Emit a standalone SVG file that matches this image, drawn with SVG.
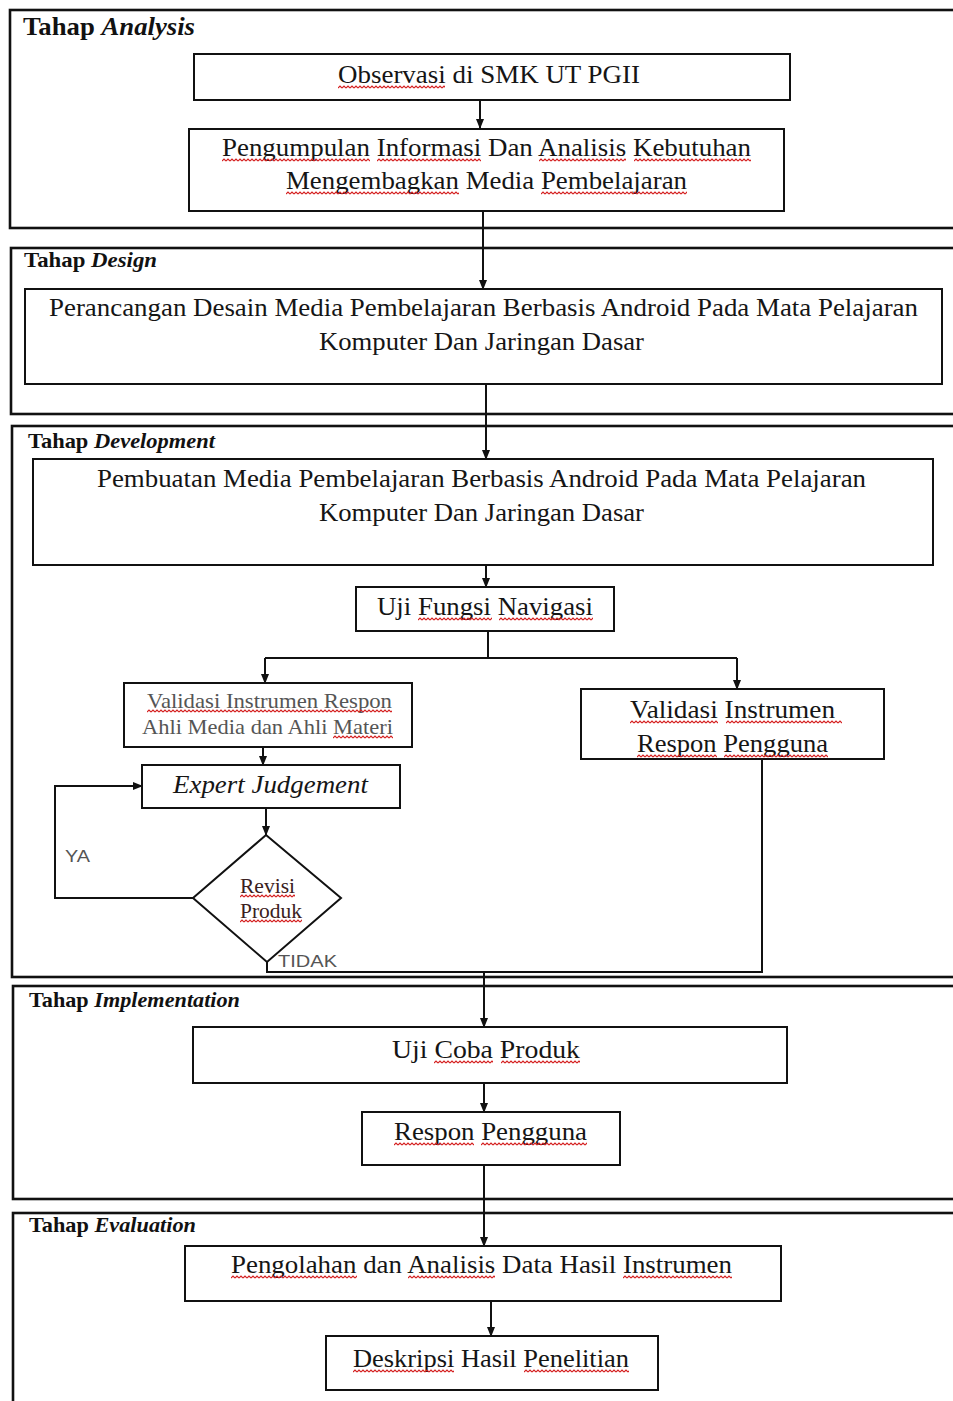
<svg xmlns="http://www.w3.org/2000/svg" width="953" height="1401" viewBox="0 0 953 1401">
<style>
.frame{fill:none;stroke:#111;stroke-width:2.6}
.box{fill:#fff;stroke:#111;stroke-width:2}
.ln{fill:none;stroke:#111;stroke-width:2}
.t{font-family:"Liberation Serif","Times New Roman",serif;font-size:26px;fill:#151515}
.ts{font-family:"Liberation Serif","Times New Roman",serif;font-size:21px;fill:#555}
.lab{font-family:"Liberation Serif","Times New Roman",serif;font-size:22px;font-weight:bold;fill:#111}
.it{font-style:italic}
.sans{font-family:"Liberation Sans",Arial,sans-serif;font-size:17px;fill:#555}
.sq{fill:url(#wave)}
</style>
<defs>
<marker id="ah" markerWidth="10" markerHeight="10" refX="9" refY="5" orient="auto" markerUnits="userSpaceOnUse">
<path d="M0,1 L10,5 L0,9 Z" fill="#111"/>
</marker>
<pattern id="wave" width="4" height="4" patternUnits="userSpaceOnUse">
<path d="M0,3 L2,1 L4,3" fill="none" stroke="#d41c1c" stroke-width="1.1"/>
</pattern>
</defs>
<rect width="953" height="1401" fill="#fff"/>

<g id="phases">
<rect class="frame" x="10" y="10" width="960" height="218"/>
<rect class="frame" x="11" y="248" width="960" height="166"/>
<rect class="frame" x="12" y="426" width="960" height="551"/>
<rect class="frame" x="13" y="986" width="960" height="213"/>
<rect class="frame" x="13" y="1213" width="960" height="260"/>
<text class="lab" x="23" y="35" style="font-size:25px" textLength="172" lengthAdjust="spacingAndGlyphs">Tahap <tspan class="it">Analysis</tspan></text>
<text class="lab" x="24" y="267" textLength="133" lengthAdjust="spacingAndGlyphs">Tahap <tspan class="it">Design</tspan></text>
<text class="lab" x="28" y="448" textLength="187" lengthAdjust="spacingAndGlyphs">Tahap <tspan class="it">Development</tspan></text>
<text class="lab" x="29" y="1007" textLength="211" lengthAdjust="spacingAndGlyphs">Tahap <tspan class="it">Implementation</tspan></text>
<text class="lab" x="29" y="1232" textLength="167" lengthAdjust="spacingAndGlyphs">Tahap <tspan class="it">Evaluation</tspan></text>
</g>

<g id="connectors">
<path class="ln" d="M480,100 V128" marker-end="url(#ah)"/>
<path class="ln" d="M483,211 V289" marker-end="url(#ah)"/>
<path class="ln" d="M486,384 V459" marker-end="url(#ah)"/>
<path class="ln" d="M486,565 V587" marker-end="url(#ah)"/>
<path class="ln" d="M488,631 V658"/>
<path class="ln" d="M265,658 H737"/>
<path class="ln" d="M265,658 V683" marker-end="url(#ah)"/>
<path class="ln" d="M737,658 V689" marker-end="url(#ah)"/>
<path class="ln" d="M263,747 V765" marker-end="url(#ah)"/>
<path class="ln" d="M266,808 V835" marker-end="url(#ah)"/>
<path class="ln" d="M193,898 H55 V786 H142" marker-end="url(#ah)"/>
<path class="ln" d="M267,962 V972 H762 V759"/>
<path class="ln" d="M484,972 V1027" marker-end="url(#ah)"/>
<path class="ln" d="M484,1083 V1112" marker-end="url(#ah)"/>
<path class="ln" d="M484,1165 V1246" marker-end="url(#ah)"/>
<path class="ln" d="M491,1301 V1336" marker-end="url(#ah)"/>
<text class="sans" x="65" y="862" textLength="25" lengthAdjust="spacingAndGlyphs">YA</text>
<text class="sans" x="278" y="967" textLength="59" lengthAdjust="spacingAndGlyphs">TIDAK</text>
</g>

<g id="n-observasi">
<rect class="box" x="194" y="54" width="596" height="46"/>
<text class="t" x="338" y="83" textLength="302" lengthAdjust="spacingAndGlyphs">Observasi di SMK UT PGII</text>
<rect class="sq" transform="translate(338,85)" width="107" height="4"/>
</g>
<g id="n-pengumpulan">
<rect class="box" x="189" y="129" width="595" height="82"/>
<text class="t" x="222" y="156" textLength="529" lengthAdjust="spacingAndGlyphs">Pengumpulan Informasi Dan Analisis Kebutuhan</text>
<text class="t" x="286" y="189" textLength="401" lengthAdjust="spacingAndGlyphs">Mengembagkan Media Pembelajaran</text>
<rect class="sq" transform="translate(222,158)" width="148" height="4"/>
<rect class="sq" transform="translate(377,158)" width="104" height="4"/>
<rect class="sq" transform="translate(539,158)" width="87" height="4"/>
<rect class="sq" transform="translate(634,158)" width="117" height="4"/>
<rect class="sq" transform="translate(286,191)" width="173" height="4"/>
<rect class="sq" transform="translate(541,191)" width="146" height="4"/>
</g>
<g id="n-perancangan">
<rect class="box" x="25" y="289" width="917" height="95"/>
<text class="t" x="49" y="316" textLength="869" lengthAdjust="spacingAndGlyphs">Perancangan Desain Media Pembelajaran Berbasis Android Pada Mata Pelajaran</text>
<text class="t" x="319" y="350" textLength="325" lengthAdjust="spacingAndGlyphs">Komputer Dan Jaringan Dasar</text>
</g>
<g id="n-pembuatan">
<rect class="box" x="33" y="459" width="900" height="106"/>
<text class="t" x="97" y="487" textLength="769" lengthAdjust="spacingAndGlyphs">Pembuatan Media Pembelajaran Berbasis Android Pada Mata Pelajaran</text>
<text class="t" x="319" y="521" textLength="325" lengthAdjust="spacingAndGlyphs">Komputer Dan Jaringan Dasar</text>
</g>
<g id="n-ujifungsi">
<rect class="box" x="356" y="587" width="258" height="44"/>
<text class="t" x="377" y="615" textLength="216" lengthAdjust="spacingAndGlyphs">Uji Fungsi Navigasi</text>
<rect class="sq" transform="translate(418,617)" width="74" height="4"/>
<rect class="sq" transform="translate(499,617)" width="94" height="4"/>
</g>
<g id="n-validasi-ahli">
<rect class="box" x="124" y="683" width="288" height="64"/>
<text class="ts" x="147" y="708" textLength="245" lengthAdjust="spacingAndGlyphs">Validasi Instrumen Respon</text>
<text class="ts" x="142" y="734" textLength="251" lengthAdjust="spacingAndGlyphs">Ahli Media dan Ahli Materi</text>
<rect class="sq" transform="translate(147,709)" width="245" height="4"/>
<rect class="sq" transform="translate(333,735)" width="60" height="4"/>
</g>
<g id="n-expert">
<rect class="box" x="142" y="765" width="258" height="43"/>
<text class="t it" x="173" y="793" textLength="195" lengthAdjust="spacingAndGlyphs">Expert Judgement</text>
</g>
<g id="n-revisi">
<path class="box" d="M266,835 L341,898 L267,962 L193,898 Z"/>
<text class="ts" x="240" y="893" style="fill:#3a2020" textLength="55" lengthAdjust="spacingAndGlyphs">Revisi</text>
<text class="ts" x="240" y="918" style="fill:#3a2020" textLength="62" lengthAdjust="spacingAndGlyphs">Produk</text>
<rect class="sq" transform="translate(240,894)" width="55" height="4"/>
<rect class="sq" transform="translate(240,919)" width="62" height="4"/>
</g>
<g id="n-validasi-pengguna">
<rect class="box" x="581" y="689" width="303" height="70"/>
<text class="t" x="630" y="718" textLength="205" lengthAdjust="spacingAndGlyphs">Validasi Instrumen</text>
<text class="t" x="637" y="752" textLength="191" lengthAdjust="spacingAndGlyphs">Respon Pengguna</text>
<rect class="sq" transform="translate(630,720)" width="88" height="4"/>
<rect class="sq" transform="translate(726,720)" width="116" height="4"/>
<rect class="sq" transform="translate(637,754)" width="80" height="4"/>
<rect class="sq" transform="translate(724,754)" width="104" height="4"/>
</g>
<g id="n-ujicoba">
<rect class="box" x="193" y="1027" width="594" height="56"/>
<text class="t" x="392" y="1058" textLength="188" lengthAdjust="spacingAndGlyphs">Uji Coba Produk</text>
<rect class="sq" transform="translate(434,1060)" width="59" height="4"/>
<rect class="sq" transform="translate(501,1060)" width="79" height="4"/>
</g>
<g id="n-respon">
<rect class="box" x="362" y="1112" width="258" height="53"/>
<text class="t" x="394" y="1140" textLength="193" lengthAdjust="spacingAndGlyphs">Respon Pengguna</text>
<rect class="sq" transform="translate(394,1142)" width="80" height="4"/>
<rect class="sq" transform="translate(481,1142)" width="106" height="4"/>
</g>
<g id="n-pengolahan">
<rect class="box" x="185" y="1246" width="596" height="55"/>
<text class="t" x="231" y="1273" textLength="501" lengthAdjust="spacingAndGlyphs">Pengolahan dan Analisis Data Hasil Instrumen</text>
<rect class="sq" transform="translate(231,1275)" width="126" height="4"/>
<rect class="sq" transform="translate(408,1275)" width="87" height="4"/>
<rect class="sq" transform="translate(623,1275)" width="109" height="4"/>
</g>
<g id="n-deskripsi">
<rect class="box" x="326" y="1336" width="332" height="54"/>
<text class="t" x="353" y="1367" textLength="276" lengthAdjust="spacingAndGlyphs">Deskripsi Hasil Penelitian</text>
<rect class="sq" transform="translate(353,1369)" width="101" height="4"/>
<rect class="sq" transform="translate(524,1369)" width="105" height="4"/>
</g>
</svg>
